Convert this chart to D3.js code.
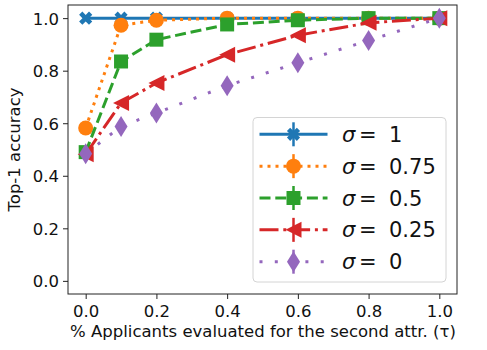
<!DOCTYPE html>
<html lang="en">
<head>
<meta charset="UTF-8">
<title>Top-1 accuracy vs applicants evaluated</title>
<script src="https://cdnjs.cloudflare.com/ajax/libs/d3/7.8.5/d3.min.js"></script>
<style>
  body { margin: 0; background: #fff; }
  svg { display: block; font-family: "DejaVu Sans", sans-serif; }
</style>
</head>
<body>
<div id="chart"></div>
<script>
// data
const tau = [0, 0.1, 0.2, 0.4, 0.6, 0.8, 1.0];
const sigmaLabels = ["1", "0.75", "0.5", "0.25", "0"];
const accSigma1   = [1.0, 1.0, 1.0, 1.0, 1.0, 1.0, 1.0];
const accSigma075 = [0.582, 0.973, 0.992, 1.0, 1.0, 1.0, 1.0];
const accSigma05  = [0.49, 0.835, 0.918, 0.976, 0.992, 1.0, 1.0];
const accSigma025 = [0.482, 0.677, 0.753, 0.861, 0.935, 0.982, 1.0];
const accSigma0   = [0.484, 0.588, 0.639, 0.743, 0.83, 0.915, 1.0];
const xTicks = [0, 0.2, 0.4, 0.6, 0.8, 1.0];
const yTicks = [0, 0.2, 0.4, 0.6, 0.8, 1.0];

const series = [
  { label: sigmaLabels[0], values: accSigma1,   color: "#1f77b4", dash: null,          marker: "x" },
  { label: sigmaLabels[1], values: accSigma075, color: "#ff7f0e", dash: "3,5",         marker: "circle" },
  { label: sigmaLabels[2], values: accSigma05,  color: "#2ca02c", dash: "11,4.8",      marker: "square" },
  { label: sigmaLabels[3], values: accSigma025, color: "#d62728", dash: "19,4.8,3,4.8", marker: "tri" },
  { label: sigmaLabels[4], values: accSigma0,   color: "#9467bd", dash: "3,12.3",      marker: "diamond" }
];

const width = 487, height = 350;
const mLeft = 68, mRight = 457, mTop = 5, mBottom = 294;

const svg = d3.select("#chart").append("svg")
  .attr("width", width).attr("height", height);

const x = d3.scaleLinear().domain([-0.05, 1.05]).range([mLeft, mRight]);
const y = d3.scaleLinear().domain([-0.05, 1.05]).range([mBottom, mTop]);

// marker shapes, centered on 0,0
function markerPath(type) {
  const p = d3.path();
  if (type === "circle") {
    p.arc(0, 0, 7.5, 0, 2 * Math.PI);
  } else if (type === "square") {
    p.rect(-7, -7, 14, 14);
  } else if (type === "tri") {
    p.moveTo(-8, 0); p.lineTo(8, -8); p.lineTo(8, 8); p.closePath();
  } else if (type === "diamond") {
    p.moveTo(0, -10.5); p.lineTo(6.5, 0); p.lineTo(0, 10.5); p.lineTo(-6.5, 0); p.closePath();
  } else if (type === "x") {
    // filled X: plus shape rotated 45deg
    const a = 7, w = 2.3;
    const pts = [[-w, -a], [w, -a], [w, -w], [a, -w], [a, w], [w, w], [w, a], [-w, a], [-w, w], [-a, w], [-a, -w], [-w, -w]];
    const c = Math.SQRT1_2;
    pts.forEach(([px, py], i) => {
      const rx = c * (px - py), ry = c * (px + py);
      if (i === 0) p.moveTo(rx, ry); else p.lineTo(rx, ry);
    });
    p.closePath();
  }
  return p.toString();
}

// series
const line = d3.line().x((d, i) => x(tau[i])).y(d => y(d));
const plot = svg.append("g");
series.forEach(s => {
  const g = plot.append("g");
  g.append("path")
    .attr("d", line(s.values))
    .attr("fill", "none")
    .attr("stroke", s.color)
    .attr("stroke-width", 3)
    .attr("stroke-dasharray", s.dash);
  g.selectAll("path.m").data(s.values).enter().append("path")
    .attr("class", "m")
    .attr("d", markerPath(s.marker))
    .attr("transform", (d, i) => `translate(${x(tau[i])},${y(d)})`)
    .attr("fill", s.color);
});

// axes
const font = 16.5;
const xAxis = svg.append("g").attr("transform", `translate(0,${mBottom})`)
  .call(d3.axisBottom(x).tickValues(xTicks).tickFormat(d3.format(".1f")).tickSize(5).tickPadding(4));
const yAxis = svg.append("g").attr("transform", `translate(${mLeft},0)`)
  .call(d3.axisLeft(y).tickValues(yTicks).tickFormat(d3.format(".1f")).tickSize(5).tickPadding(4));
[xAxis, yAxis].forEach(a => {
  a.select(".domain").remove();
  a.selectAll("line").attr("stroke", "#222").attr("stroke-width", 1);
  a.selectAll("text").attr("font-size", font).attr("fill", "#111")
    .attr("font-family", "DejaVu Sans, sans-serif");
});
xAxis.selectAll("text").attr("dy", null).attr("y", 22.5);
yAxis.selectAll("text").attr("dy", "0.36em");

// frame
svg.append("rect")
  .attr("x", mLeft).attr("y", mTop)
  .attr("width", mRight - mLeft).attr("height", mBottom - mTop)
  .attr("fill", "none").attr("stroke", "#222").attr("stroke-width", 1);

// axis labels
svg.append("text")
  .attr("x", 263).attr("y", 337)
  .attr("text-anchor", "middle").attr("font-size", font).attr("fill", "#111")
  .text("% Applicants evaluated for the second attr. (τ)");
svg.append("text")
  .attr("transform", `translate(20,${(mTop + mBottom) / 2}) rotate(-90)`)
  .attr("text-anchor", "middle").attr("font-size", font).attr("fill", "#111")
  .text("Top-1 accuracy");

// legend
const lg = svg.append("g");
lg.append("rect")
  .attr("x", 253).attr("y", 117.5).attr("width", 193).attr("height", 164.5)
  .attr("rx", 4)
  .attr("fill", "#fff").attr("fill-opacity", 0.8)
  .attr("stroke", "#d4d4d4").attr("stroke-width", 1);

const rowY = d3.scaleLinear().domain([0, 4]).range([134.3, 261.7]);
series.forEach((s, i) => {
  const cy = rowY(i);
  const row = lg.append("g");
  row.append("line")
    .attr("x1", 259.5).attr("x2", 327.5).attr("y1", cy).attr("y2", cy)
    .attr("stroke", s.color).attr("stroke-width", 3)
    .attr("stroke-dasharray", s.dash);
  row.append("line")
    .attr("x1", 293.5).attr("x2", 293.5).attr("y1", cy - 12).attr("y2", cy + 12)
    .attr("stroke", s.color).attr("stroke-width", 2.5);
  row.append("path")
    .attr("d", markerPath(s.marker))
    .attr("transform", `translate(293.5,${cy})`)
    .attr("fill", s.color);
  const t = row.append("text")
    .attr("y", cy).attr("dy", "0.36em")
    .attr("font-size", 21).attr("fill", "#111");
  t.append("tspan").attr("x", 342).attr("font-style", "italic").text("σ");
  t.append("tspan").attr("x", 359).text("=");
  t.append("tspan").attr("x", 389).text(s.label);
});
</script>
</body>
</html>
